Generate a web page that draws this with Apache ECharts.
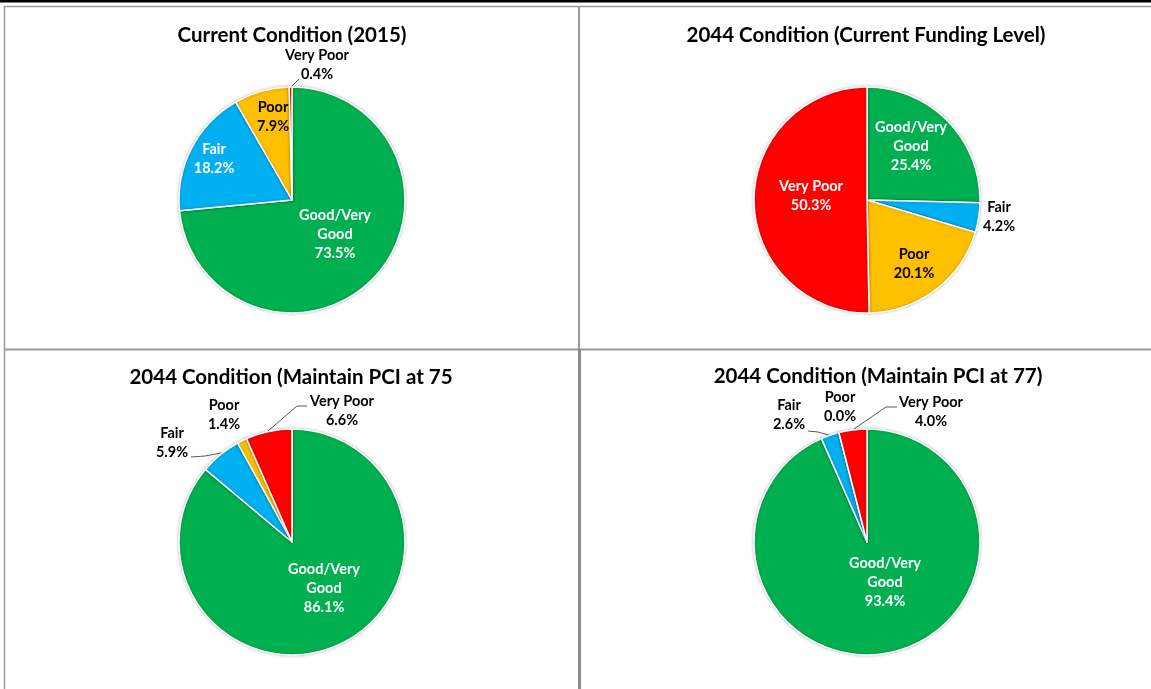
<!DOCTYPE html>
<html>
<head>
<meta charset="utf-8">
<style>
  html, body { margin: 0; padding: 0; background: #fff; }
  #chart { width: 1151px; height: 689px; }
</style>
<script src="https://cdn.jsdelivr.net/npm/echarts@6/dist/echarts.min.js"></script>
</head>
<body>
<div id="chart"></div>
<script>
// condition categories, clockwise from 12 o'clock
const categories = ['Good/Very Good', 'Fair', 'Poor', 'Very Poor'];
const labelNames = ['Good/Very\nGood', 'Fair', 'Poor', 'Very Poor'];
const colors = ['#00B050', '#00B0F0', '#FFC000', '#FF0000'];

// percent share of network
const current2015 = [73.5, 18.2, 7.9, 0.4];
const funding2044 = [25.4, 4.2, 20.1, 50.3];
const pci75 = [86.1, 5.9, 1.4, 6.6];
const pci77 = [93.4, 2.6, 0.0, 4.0];

const titles = [
  'Current Condition (2015)',
  '2044 Condition (Current Funding Level)',
  '2044 Condition (Maintain PCI at 75',
  '2044 Condition (Maintain PCI at 77)'
];

// layout of each panel (pie centre, title centre; title has 5px padding)
const panels = [
  { values: current2015, center: [292, 200], title: [287, 20] },
  { values: funding2044, center: [867, 200], title: [861, 20] },
  { values: pci75, center: [292, 542], title: [286, 362] },
  { values: pci77, center: [867, 542], title: [873, 361] }
];

// label placement, like the excel "best fit" result
// inside: true = label sits on the slice; line = leader line points
const labelSpots = [
  [
    { at: [335, 234], inside: true },
    { at: [214, 159], inside: true },
    { at: [273, 117], inside: true },
    { at: [317, 65], line: [[291, 87], [295, 83], [299, 79]] }
  ],
  [
    { at: [911, 146], inside: true },
    { at: [999, 217] },
    { at: [914, 264], inside: true },
    { at: [811, 196], inside: true }
  ],
  [
    { at: [324, 588], inside: true },
    { at: [172, 443], line: [[221, 453], [205, 456], [191, 457]] },
    { at: [224, 415] },
    { at: [342, 411], line: [[268, 431], [297, 406], [307, 406]] }
  ],
  [
    { at: [885, 582], inside: true },
    { at: [789, 415], line: [[832, 436], [818, 432], [808, 431]] },
    { at: [840, 407] },
    { at: [931, 412], line: [[854, 429], [886, 407], [897, 407]] }
  ]
];

const FONT = 'Lato, "Open Sans", sans-serif';

function buildSeries(panel, pIdx) {
  return {
    type: 'pie',
    center: panel.center,
    radius: 113,
    startAngle: 90,
    clockwise: true,
    avoidLabelOverlap: false,
    silent: true,
    animation: false,
    itemStyle: {
      borderColor: '#fff',
      borderWidth: 1.5,
      shadowBlur: 3,
      shadowColor: 'rgba(0,0,0,0.25)'
    },
    label: {
      fontFamily: FONT,
      fontWeight: 'bold',
      fontSize: 14.5,
      lineHeight: 19,
      align: 'center',
      formatter: (p) => labelNames[p.dataIndex] + '\n' + p.value.toFixed(1) + '%'
    },
    labelLine: {
      length: 8,
      length2: 8,
      lineStyle: { color: '#595959', width: 1 }
    },
    labelLayout: (params) => {
      const spot = labelSpots[pIdx][params.dataIndex];
      const out = { x: spot.at[0], y: spot.at[1], align: 'center', verticalAlign: 'middle' };
      if (spot.line) out.labelLinePoints = spot.line;
      return out;
    },
    data: panel.values.map((v, i) => {
      const spot = labelSpots[pIdx][i];
      const darkText = !spot.inside || i === 2;
      return {
        name: categories[i],
        value: v,
        itemStyle: { color: colors[i] },
        label: {
          position: spot.inside ? 'inside' : 'outside',
          color: darkText ? '#000' : '#fff'
        },
        labelLine: { show: !!spot.line }
      };
    })
  };
}

const borderColor = '#9a9a9a';
const frame = [
  { type: 'line', shape: { x1: 0, y1: 1, x2: 1151, y2: 1 }, style: { stroke: '#000', lineWidth: 3 } },
  { type: 'line', shape: { x1: 4, y1: 6.5, x2: 1151, y2: 6.5 }, style: { stroke: borderColor, lineWidth: 1.5 } },
  { type: 'line', shape: { x1: 4.5, y1: 6, x2: 4.5, y2: 689 }, style: { stroke: borderColor, lineWidth: 1.5 } },
  { type: 'line', shape: { x1: 579, y1: 6, x2: 579, y2: 349 }, style: { stroke: borderColor, lineWidth: 2 } },
  { type: 'line', shape: { x1: 4, y1: 349.5, x2: 1151, y2: 349.5 }, style: { stroke: borderColor, lineWidth: 2 } },
  { type: 'line', shape: { x1: 579.5, y1: 349, x2: 579.5, y2: 689 }, style: { stroke: '#8c8c8c', lineWidth: 3 } }
];

const chart = echarts.init(document.getElementById('chart'), null, { renderer: 'canvas' });
chart.setOption({
  backgroundColor: '#fff',
  animation: false,
  title: panels.map((p, i) => ({
    text: titles[i],
    left: p.title[0],
    top: p.title[1],
    textAlign: 'center',
    textStyle: { fontFamily: FONT, fontWeight: 'bold', fontSize: 20.5, color: '#000' }
  })),
  graphic: frame,
  series: panels.map(buildSeries)
});
</script>
</body>
</html>
